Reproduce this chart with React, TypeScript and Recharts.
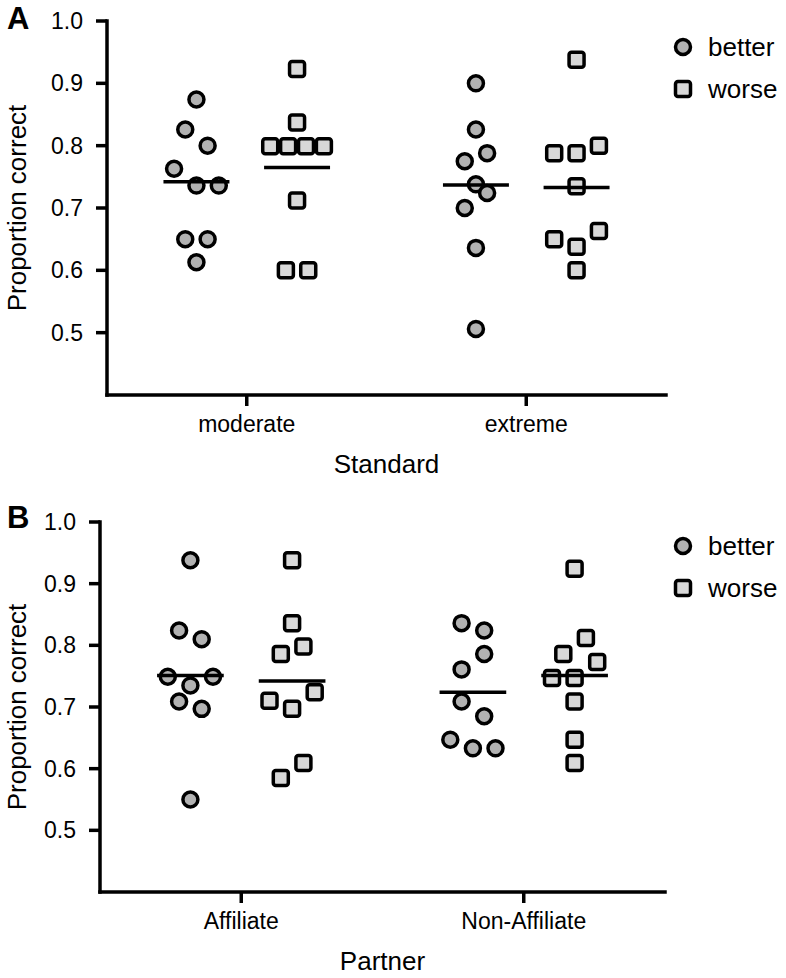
import React from 'react';
import { ScatterChart, Scatter, XAxis, YAxis, ReferenceLine, Legend } from 'recharts';

const FONT = '"Liberation Sans", Arial, Helvetica, sans-serif';
const INK = '#000';
const BETTER_FILL = '#b2b2b2';
const WORSE_FILL = '#d8d8d8';

// x layout: categories sit at 1 and 2, groups are dodged left/right of them,
// slots are the beeswarm spread inside a group (in SLOT units)
const GROUP_OFFSET = 0.18;
const SLOT = 0.04;
const MEAN_HALF = 0.118;

const yTicks = [0.5, 0.6, 0.7, 0.8, 0.9, 1.0];

// Panel A: Standard
const standardCats = ['moderate', 'extreme'];
const moderateBetter = [0.874, 0.826, 0.8, 0.763, 0.736, 0.736, 0.65, 0.65, 0.613];
const moderateBetterSlots = [0, -1, 1, -2, 0, 2, -1, 1, 0];
const moderateWorse = [0.923, 0.837, 0.799, 0.799, 0.799, 0.799, 0.712, 0.6, 0.6];
const moderateWorseSlots = [0, 0, -2.4, -0.8, 0.8, 2.4, 0, -1, 1];
const extremeBetter = [0.9, 0.826, 0.788, 0.775, 0.738, 0.724, 0.7, 0.636, 0.506];
const extremeBetterSlots = [0, 0, 1, -1, 0, 1, -1, 0, 0];
const extremeWorse = [0.938, 0.8, 0.788, 0.788, 0.735, 0.663, 0.65, 0.638, 0.6];
const extremeWorseSlots = [0, 2, -2, 0, 0, 2, -2, 0, 0];
const standardBetterMeans = [0.742, 0.737];
const standardWorseMeans = [0.765, 0.733];

// Panel B: Partner
const partnerCats = ['Affiliate', 'Non-Affiliate'];
const affiliateBetter = [0.938, 0.824, 0.81, 0.749, 0.749, 0.735, 0.709, 0.697, 0.55];
const affiliateBetterSlots = [0, -1, 1, -2, 2, 0, -1, 1, 0];
const affiliateWorse = [0.938, 0.836, 0.798, 0.786, 0.724, 0.71, 0.697, 0.609, 0.585];
const affiliateWorseSlots = [0, 0, 1, -1, 2, -2, 0, 1, -1];
const nonAffiliateBetter = [0.836, 0.824, 0.786, 0.761, 0.709, 0.685, 0.647, 0.633, 0.633];
const nonAffiliateBetterSlots = [-1, 1, 1, -1, -1, 1, -2, 0, 2];
const nonAffiliateWorse = [0.924, 0.812, 0.786, 0.773, 0.747, 0.747, 0.709, 0.647, 0.609];
const nonAffiliateWorseSlots = [0, 1, -1, 2, -2, 0, 0, 0, 0];
const partnerBetterMeans = [0.751, 0.724];
const partnerWorseMeans = [0.742, 0.751];

type Pt = { x: number; y: number };

function toPoints(cat: number, side: number, values: number[], slots: number[]): Pt[] {
  return values.map((v, i) => ({ x: cat + side * GROUP_OFFSET + slots[i] * SLOT, y: v }));
}

const CircleMark = (props: any) => {
  const { cx, cy } = props;
  if (cx == null || cy == null) return null;
  return <circle cx={cx} cy={cy} r={7.5} fill={BETTER_FILL} stroke={INK} strokeWidth={3.5} />;
};

const SquareMark = (props: any) => {
  const { cx, cy } = props;
  if (cx == null || cy == null) return null;
  return (
    <rect x={cx - 7.5} y={cy - 7.5} width={15} height={15} rx={2.5}
      fill={WORSE_FILL} stroke={INK} strokeWidth={3.5} />
  );
};

const XTitle = (props: any) => {
  const { viewBox, text } = props;
  if (!viewBox) return null;
  return (
    <text x={viewBox.x + viewBox.width / 2} y={viewBox.y + 69} textAnchor="middle"
      dominantBaseline="central" fontSize={26} fontFamily={FONT} fill={INK}>
      {text}
    </text>
  );
};

const YTitle = (props: any) => {
  const { viewBox, text } = props;
  if (!viewBox) return null;
  const x = viewBox.x + 17;
  const y = viewBox.y + viewBox.height / 2;
  return (
    <text x={x} y={y} transform={`rotate(-90, ${x}, ${y})`} textAnchor="middle"
      dominantBaseline="central" fontSize={26} fontFamily={FONT} fill={INK}>
      {text}
    </text>
  );
};

const LegendBox = () => (
  <div style={{ fontFamily: FONT, color: INK }}>
    {[
      { name: 'better', mark: <circle cx={10} cy={10} r={7.5} fill={BETTER_FILL} stroke={INK} strokeWidth={3.5} /> },
      { name: 'worse', mark: <rect x={2.5} y={2.5} width={15} height={15} rx={2.5} fill={WORSE_FILL} stroke={INK} strokeWidth={3.5} /> },
    ].map((row) => (
      <div key={row.name} style={{ display: 'flex', alignItems: 'center', height: 42 }}>
        <svg width={20} height={20}>{row.mark}</svg>
        <span style={{ marginLeft: 15, fontSize: 26, lineHeight: 1 }}>{row.name}</span>
      </div>
    ))}
  </div>
);

interface PanelProps {
  letter: string;
  letterTop: number;
  cats: string[];
  groups: { better: Pt[]; worse: Pt[] }[];
  betterMeans: number[];
  worseMeans: number[];
  xTitle: string;
  top: number;
  bottom: number;
  right: number;
  yAxisWidth: number;
  legendTop: number;
}

const Panel = (p: PanelProps) => {
  const axisLine = { stroke: INK, strokeWidth: 3.5, strokeLinecap: 'square' as const };
  const tickLine = { stroke: INK, strokeWidth: 3.5 };
  const tick = { fill: INK, fontSize: 23, fontFamily: FONT };
  return (
    <div style={{ position: 'relative', width: 786, height: 489 }}>
      <div style={{ position: 'absolute', left: 7, top: p.letterTop, fontFamily: FONT, fontWeight: 'bold', fontSize: 31, lineHeight: '31px', color: INK }}>
        {p.letter}
      </div>
      <ScatterChart width={786} height={489} margin={{ top: p.top, right: p.right, bottom: p.bottom, left: 0 }}>
        <XAxis
          type="number"
          dataKey="x"
          domain={[0.5, 2.5]}
          ticks={[1, 2]}
          tickFormatter={(v: number) => p.cats[v - 1]}
          height={80}
          axisLine={axisLine}
          tickLine={tickLine}
          tickSize={11}
          tickMargin={10}
          tick={tick}
          label={<XTitle text={p.xTitle} />}
        />
        <YAxis
          type="number"
          dataKey="y"
          domain={[0.4, 1.0]}
          ticks={yTicks}
          tickFormatter={(v: number) => v.toFixed(1)}
          width={p.yAxisWidth}
          axisLine={axisLine}
          tickLine={tickLine}
          tickSize={11}
          tickMargin={13}
          tick={tick}
          label={<YTitle text="Proportion correct" />}
        />
        <Legend
          layout="horizontal"
          verticalAlign="middle"
          align="center"
          wrapperStyle={{ left: 673, top: p.legendTop, width: 113 }}
          content={() => <LegendBox />}
        />
        {p.groups.map((g, i) => (
          <Scatter key={`b${i}`} name="better" data={g.better} shape={CircleMark} isAnimationActive={false} />
        ))}
        {p.groups.map((g, i) => (
          <Scatter key={`w${i}`} name="worse" data={g.worse} shape={SquareMark} isAnimationActive={false} />
        ))}
        {p.betterMeans.map((m, i) => (
          <ReferenceLine key={`mb${i}`} zIndex={700}
            segment={[{ x: i + 1 - GROUP_OFFSET - MEAN_HALF, y: m }, { x: i + 1 - GROUP_OFFSET + MEAN_HALF, y: m }]}
            stroke={INK} strokeWidth={3.5} />
        ))}
        {p.worseMeans.map((m, i) => (
          <ReferenceLine key={`mw${i}`} zIndex={700}
            segment={[{ x: i + 1 + GROUP_OFFSET - MEAN_HALF, y: m }, { x: i + 1 + GROUP_OFFSET + MEAN_HALF, y: m }]}
            stroke={INK} strokeWidth={3.5} />
        ))}
      </ScatterChart>
    </div>
  );
}

export default function App() {
  const standardGroups = [
    { better: toPoints(1, -1, moderateBetter, moderateBetterSlots), worse: toPoints(1, 1, moderateWorse, moderateWorseSlots) },
    { better: toPoints(2, -1, extremeBetter, extremeBetterSlots), worse: toPoints(2, 1, extremeWorse, extremeWorseSlots) },
  ];
  const partnerGroups = [
    { better: toPoints(1, -1, affiliateBetter, affiliateBetterSlots), worse: toPoints(1, 1, affiliateWorse, affiliateWorseSlots) },
    { better: toPoints(2, -1, nonAffiliateBetter, nonAffiliateBetterSlots), worse: toPoints(2, 1, nonAffiliateWorse, nonAffiliateWorseSlots) },
  ];
  return (
    <div style={{ position: 'absolute', left: 0, top: 0, width: 786, height: 978, background: '#fff' }}>
      <Panel
        letter="A" letterTop={3} cats={standardCats} groups={standardGroups}
        betterMeans={standardBetterMeans} worseMeans={standardWorseMeans}
        xTitle="Standard" top={21} bottom={14} right={120} yAxisWidth={107} legendTop={26}
      />
      <Panel
        letter="B" letterTop={13} cats={partnerCats} groups={partnerGroups}
        betterMeans={partnerBetterMeans} worseMeans={partnerWorseMeans}
        xTitle="Partner" top={33} bottom={6} right={121} yAxisWidth={100} legendTop={36}
      />
    </div>
  );
}
